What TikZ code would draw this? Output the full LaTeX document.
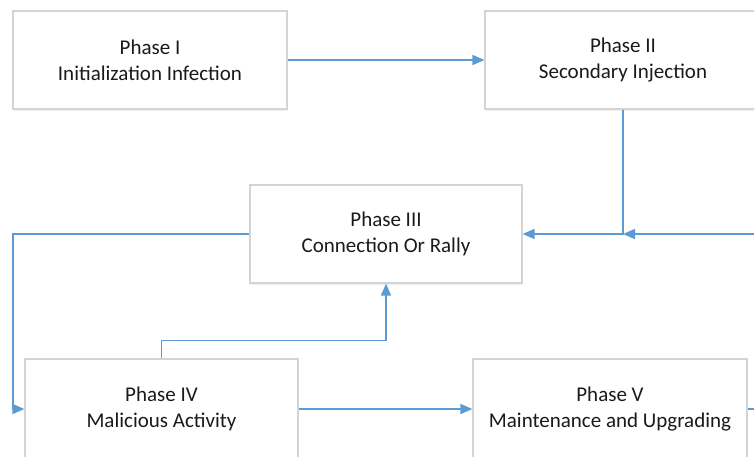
\documentclass[tikz,border=0pt]{standalone}
\usepackage{fontspec}
\setmainfont{Carlito}
\usetikzlibrary{arrows.meta,shadows,calc}
\definecolor{flow}{HTML}{5B9BD5}
\definecolor{frame}{HTML}{D4D4D4}
\definecolor{ink}{HTML}{1A1A1A}
\tikzset{
  phasebox/.style={draw=frame, line width=1.2pt, fill=white, rectangle,
    minimum width=274pt, minimum height=98pt, align=center,
    font=\fontsize{21}{26}\selectfont, text=ink,
    drop shadow={opacity=0.12, shadow xshift=1pt, shadow yshift=-2pt}},
  flowline/.style={draw=flow, line width=1.6pt},
  flowarrow/.style={flowline, -{Triangle[length=12pt,width=10pt]}}
}
\begin{document}
\begin{tikzpicture}[x=1pt,y=-1pt]
\useasboundingbox (0,0) rectangle (754,456);
\clip (0,0) rectangle (754,456);
% phase boxes
\node[phasebox] (p1) at (150,60) {Phase I\\Initialization Infection};
\node[phasebox, minimum width=276pt] (p2) at (623,60) {Phase II\\Secondary Injection};
\node[phasebox, minimum width=272pt] (p3) at (386,234) {Phase III\\Connection Or Rally};
\node[phasebox, minimum width=273pt, minimum height=100pt] (p4) at (161.5,409) {Phase IV\\Malicious Activity};
\node[phasebox, minimum height=100pt] (p5) at (610,409) {Phase V\\Maintenance and Upgrading};
% free ends and bends
\coordinate (j) at (623,234);
\coordinate (rin) at (756,234);
\coordinate (lbend) at (13,234);
\coordinate (rout) at (756,409);
% connectors
\draw[flowarrow] (p1.east) -- (p2.west);
\draw[flowarrow] (p2.south) |- (p3.east);
\draw[flowarrow] (rin) -- (j);
\draw[flowarrow] (p3.west) -- (lbend) |- (p4.west);
\draw[flowarrow] (p4.north) -- ++(0,-18) -| (p3.south);
\draw[flowarrow] (p4.east) -- (p5.west);
\draw[flowline] (p5.east) -- (rout);
\end{tikzpicture}
\end{document}
